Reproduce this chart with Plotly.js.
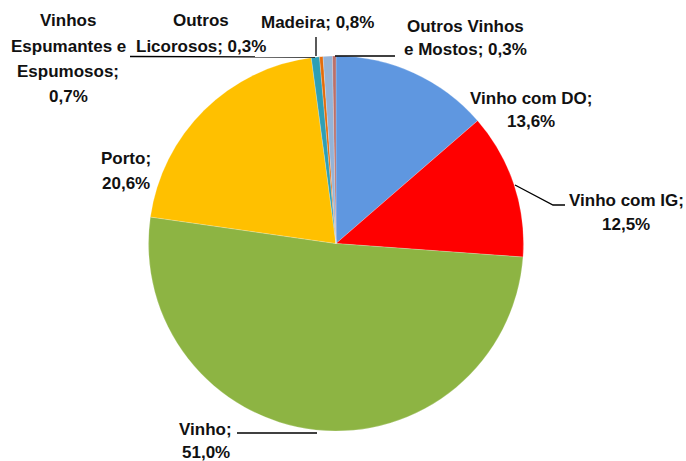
<!DOCTYPE html>
<html>
<head>
<meta charset="utf-8">
<script src="https://cdn.plot.ly/plotly-3.0.1.min.js"></script>
<style>html,body{margin:0;padding:0;background:#fff;}#chart{width:686px;height:461px;}</style>
</head>
<body>
<div id="chart"></div>
<script>
// ---- data ----
const categories = ["Vinho com DO", "Vinho com IG", "Vinho", "Porto",
  "Vinhos Espumantes e Espumosos", "Outros Licorosos", "Madeira", "Outros Vinhos e Mostos"];
const shares = [13.6, 12.5, 51.0, 20.6, 0.7, 0.3, 0.8, 0.3];
const colors = ["#5F97E0", "#FF0000", "#8DB443", "#FFC000", "#2E9FB5", "#E46C0A", "#95B3D7", "#B9706B"];
// how each category name is wrapped in its label ("|" = line break), and separator before the value
const wrappedNames = ["Vinho com DO;|", "Vinho com IG;|", "Vinho;|", "Porto;|",
  "Vinhos|Espumantes e|Espumosos;|", "Outros|Licorosos; ", "Madeira; ", "Outros Vinhos|e Mostos; "];

// ---- layout helpers (pixel -> paper) ----
const W = 686, H = 461;
const px = x => x / W, py = y => 1 - y / H;
const fmt = v => v.toFixed(1).replace(".", ",") + "%";

// label placement: centre x, first-line centre y, line spacing (pixels)
const labelPos = [[531, 98, 24], [626, 200, 24], [206, 429, 23], [126, 158, 25],
  [68, 21, 25.3], [201, 21, 26], [317, 22, 24], [466, 26, 24]];

const annotations = [];
categories.forEach((c, i) => {
  const lines = (wrappedNames[i] + fmt(shares[i])).split("|");
  const [cx, y0, dy] = labelPos[i];
  lines.forEach((t, k) => annotations.push({
    xref: "paper", yref: "paper",
    x: px(cx), y: py(y0 + k * dy),
    xanchor: "center", yanchor: "middle",
    text: "<b>" + t + "</b>",
    showarrow: false, align: "center",
    font: {family: "'Liberation Sans', Arial, sans-serif", size: 17, color: "#111"}
  }));
});

const line = (pts) => ({
  type: "path", xref: "paper", yref: "paper",
  path: pts.map((p, k) => (k ? "L" : "M") + px(p[0]) + "," + py(p[1])).join(" "),
  line: {color: "#000", width: 1.3}
});
const shapes = [
  line([[130, 56.5], [315, 57]]),
  line([[316, 37], [316, 56]]),
  line([[335, 56], [395, 56]]),
  line([[515, 185], [553, 205], [565, 205]]),
  line([[237, 433], [317, 433]])
];

const trace = {
  type: "pie",
  labels: categories,
  values: shares,
  sort: false,
  direction: "clockwise",
  rotation: 0,
  textinfo: "none",
  hoverinfo: "label+percent",
  marker: {colors: colors, line: {color: "rgba(255,255,255,0.35)", width: 0.6}},
  domain: {x: [px(148), px(524)], y: [py(431), py(56)]},
  showlegend: false
};

Plotly.newPlot("chart", [trace], {
  width: W, height: H,
  margin: {l: 0, r: 0, t: 0, b: 0},
  paper_bgcolor: "#fff",
  showlegend: false,
  annotations: annotations,
  shapes: shapes
}, {displayModeBar: false, staticPlot: true});
</script>
</body>
</html>
